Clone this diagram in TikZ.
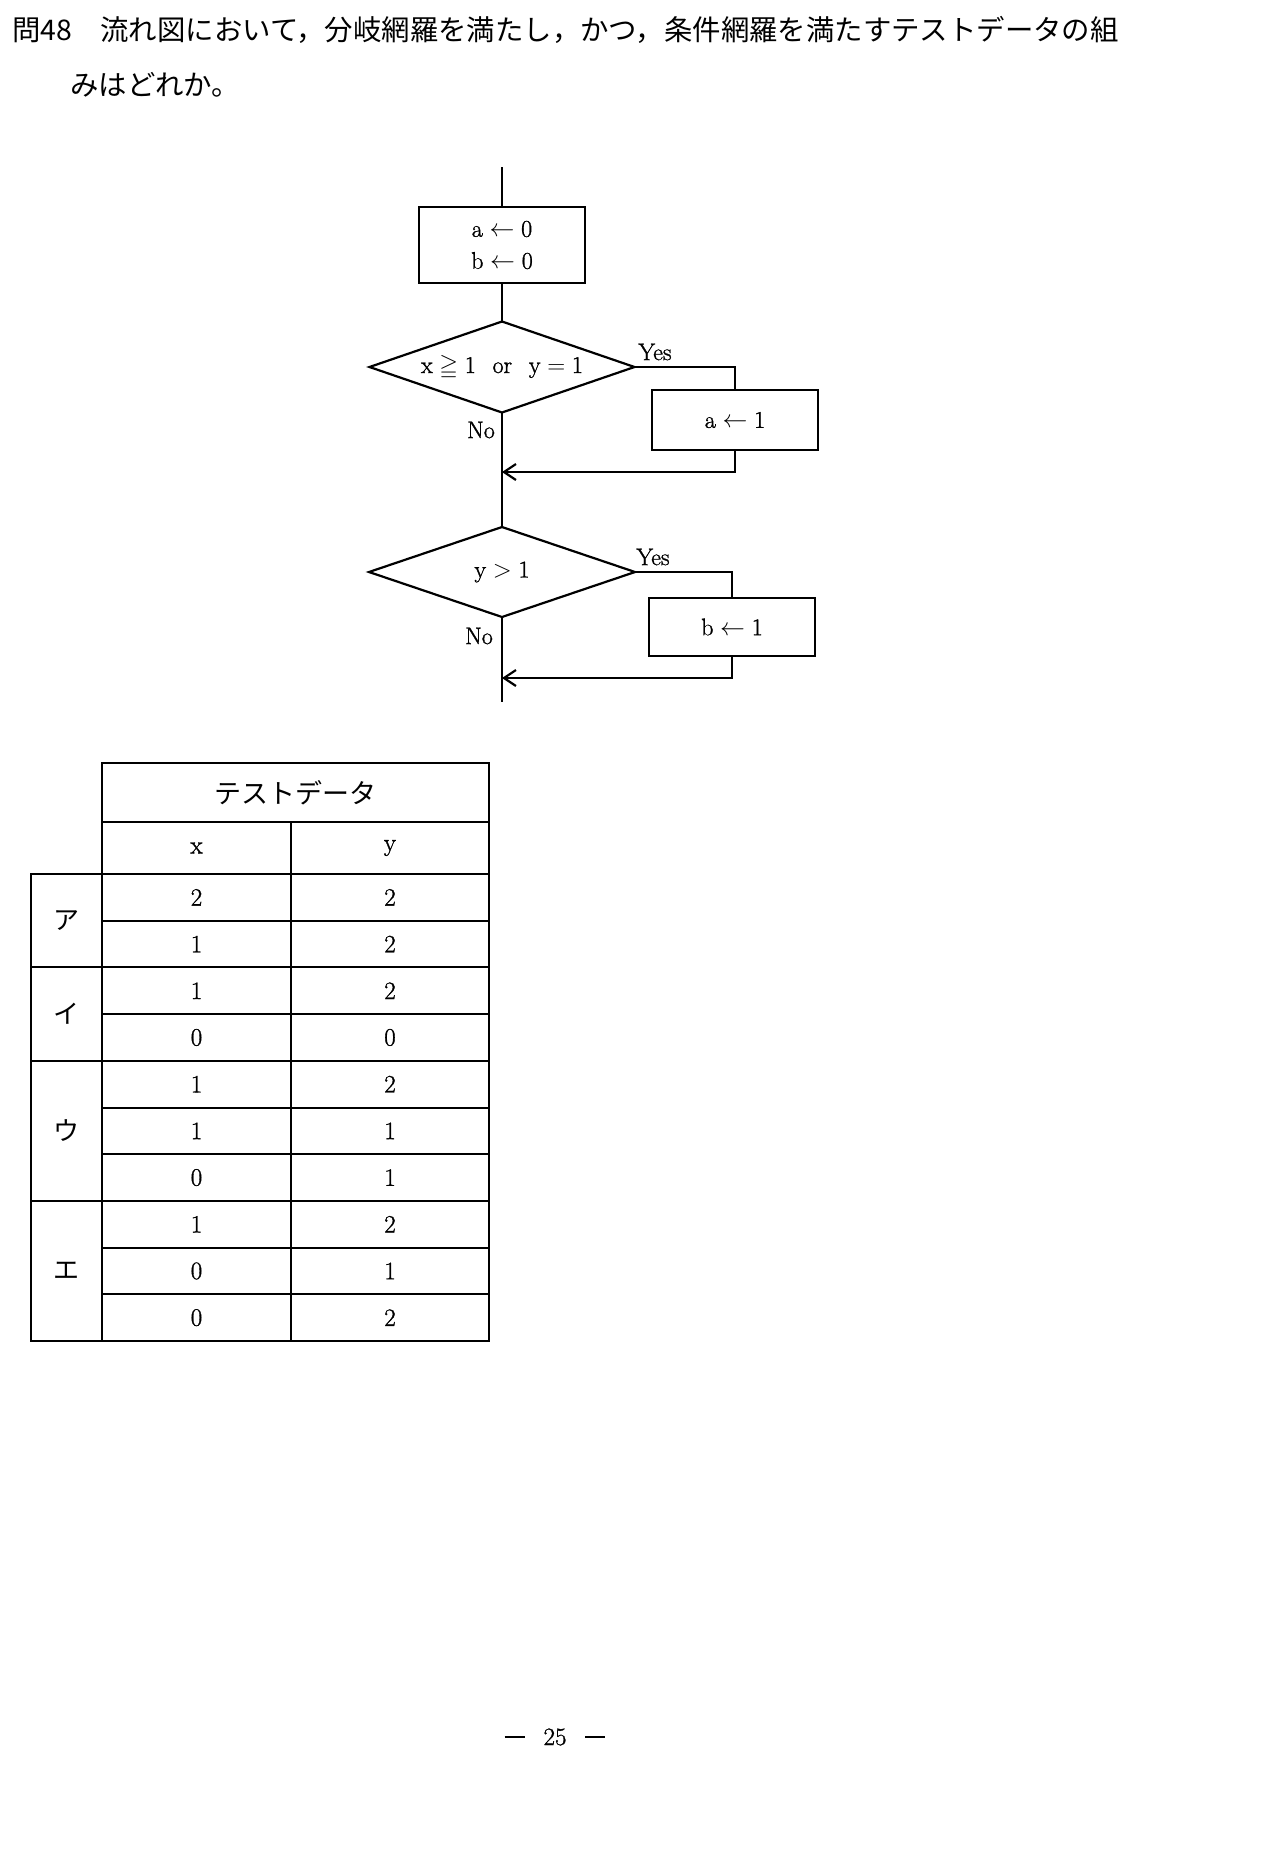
\documentclass[tikz,border=0pt]{standalone}
\usepackage{fontspec}
\usepackage{amssymb}
\usetikzlibrary{shapes.geometric,arrows.meta}
\newfontfamily\jp{Noto Sans CJK JP}
\newfontfamily\serifh{Latin Modern Roman}[FakeBold=1.2]
\newfontfamily\jph{Noto Sans CJK JP}
\begin{document}
\begin{tikzpicture}[x=1pt,y=-1pt,
  every node/.style={font=\serifh\fontsize{24}{30}\selectfont},
  ln/.style={line width=2.2pt},
  procbox/.style={draw,line width=2.2pt,rectangle,minimum width=166pt,inner sep=0pt,outer sep=0pt},
  decide/.style={draw,line width=2.2pt,diamond,aspect=2.9,inner sep=0pt,outer sep=0pt,minimum width=265pt,minimum height=91pt},
  lbl/.style={font=\serifh\fontsize{24}{28}\selectfont,inner sep=0pt},
  cell/.style={draw,line width=2pt,rectangle,inner sep=0pt,minimum height=46.7pt,font=\serifh\fontsize{25}{30}\selectfont},
  kana/.style={cell,minimum width=71pt,font=\jp\fontsize{26}{30}\selectfont},
  arr/.style={-{Straight Barb[length=12pt,width=16pt]}},
  titletext/.style={anchor=west,inner sep=0pt,font=\jp\fontsize{28.4}{34}\selectfont}
]
\fill[white] (0,0) rectangle (1275,1856);
\useasboundingbox (0,0) rectangle (1275,1856);

% title
\node[titletext] (title1) at (12,30) {問48　流れ図において，分岐網羅を満たし，かつ，条件網羅を満たすテストデータの組};
\node[titletext] (title2) at (70,85) {みはどれか。};

% flowchart
\coordinate (start) at (502,167);
\node[procbox,minimum height=76pt,align=center,font=\serifh\fontsize{24}{32}\selectfont] (init) at (502,245) {a\hspace{.28em}$\leftarrow$\hspace{.28em}0\\b\hspace{.28em}$\leftarrow$\hspace{.28em}0};
\node[decide] (d1) at (502,367) {x\hspace{.28em}$\geqq$\hspace{.28em}1\hspace{0.7em}or\hspace{0.7em}y\hspace{.28em}$=$\hspace{.28em}1};
\node[procbox,minimum height=60pt] (s1) at (735,420) {a\hspace{.28em}$\leftarrow$\hspace{.28em}1};
\coordinate (m1) at (502,472);
\node[decide,minimum height=90pt,minimum width=266pt] (d2) at (502,572) {y\hspace{.28em}$>$\hspace{.28em}1};
\node[procbox,minimum height=58pt] (s2) at (732,627) {b\hspace{.28em}$\leftarrow$\hspace{.28em}1};
\coordinate (m2) at (502,678);
\coordinate (end) at (502,702);

\draw[ln] (start) -- (init);
\draw[ln] (init) -- (d1);
\draw[ln] (d1.east) -| (s1.north);
\draw[ln,arr] (s1.south) |- (m1);
\draw[ln] (d1.south) -- (d2.north);
\draw[ln] (d2.east) -| (s2.north);
\draw[ln,arr] (s2.south) |- (m2);
\draw[ln] (d2.south) -- (end);

\node[lbl] (yes1) at (655,352) {Yes};
\node[lbl] (no1) at (481,430) {No};
\node[lbl] (yes2) at (653,557) {Yes};
\node[lbl] (no2) at (479,636) {No};

% table
\node[cell,minimum width=387pt,minimum height=59pt,font=\jp\fontsize{27}{30}\selectfont] (th) at (295.5,792.5) {テストデータ};
\node[cell,minimum width=189pt,minimum height=52pt] (hx) at (196.5,848) {x};
\node[cell,minimum width=198pt,minimum height=52pt] (hy) at (390,848) {y};
\foreach \xv/\yv [count=\k from 0] in {2/2,1/2,1/2,0/0,1/2,1/1,0/1,1/2,0/1,0/2} {
  \node[cell,minimum width=189pt] (x\k) at (196.5,{874+46.7*\k+23.35}) {\xv};
  \node[cell,minimum width=198pt] (y\k) at (390,{874+46.7*\k+23.35}) {\yv};
}
\node[kana,minimum height=93.4pt] (la) at (66.5,920.7) {ア};
\node[kana,minimum height=93.4pt] (li) at (66.5,1014.1) {イ};
\node[kana,minimum height=140.1pt] (lu) at (66.5,1130.85) {ウ};
\node[kana,minimum height=140.1pt] (le) at (66.5,1270.95) {エ};

% page number
\node[font=\serifh\fontsize{25}{30}\selectfont] (pg) at (555,1737) {\rule[0.3em]{20pt}{1.6pt}\hspace{19pt}25\hspace{19pt}\rule[0.3em]{20pt}{1.6pt}};
\end{tikzpicture}
\end{document}
